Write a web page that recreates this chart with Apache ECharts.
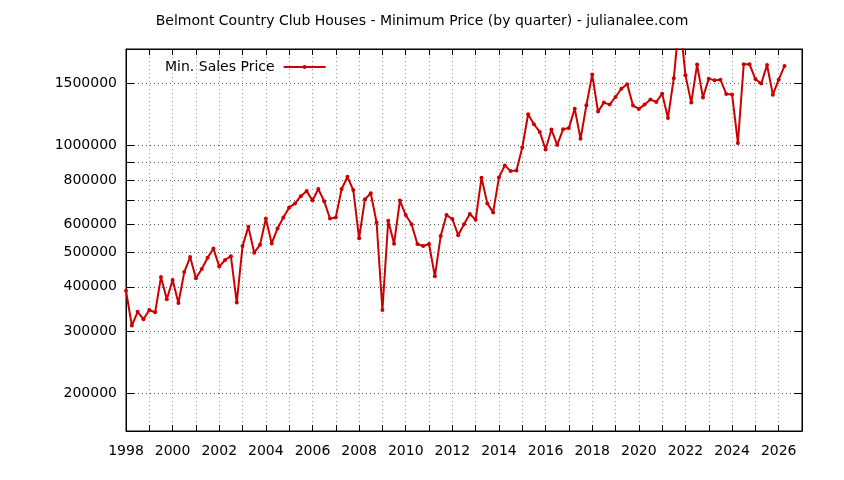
<!DOCTYPE html>
<html>
<head>
<meta charset="utf-8">
<script src="https://cdn.jsdelivr.net/npm/echarts@6/dist/echarts.min.js"></script>
<style>
html,body{margin:0;padding:0;background:#fff;}
#c{width:844px;height:480px;}
</style>
</head>
<body>
<div id="c"></div>
<script>
const chartTitle = 'Belmont Country Club Houses - Minimum Price (by quarter) - julianalee.com';
const seriesName = 'Min. Sales Price';
const firstYear = 1998;
// quarterly minimum prices, Q1 1998 .. Q2 2026
const prices = [
  390000, 311000, 340000, 324000,
  344000, 339000, 426000, 369000,
  418000, 360000, 440000, 485000,
  423000, 449000, 483000, 513000,
  456000, 476000, 488000, 361000,
  521000, 590000, 499000, 525000,
  623000, 530000, 584000, 627000,
  669000, 687000, 720000, 744000,
  700000, 754000, 697000, 623000,
  627000, 754000, 816000, 749000,
  548000, 706000, 734000, 607000,
  344000, 614000, 529000, 700000,
  637000, 600000, 528000, 521000,
  528000, 428000, 556000, 637000,
  621000, 559000, 600000, 641000,
  618000, 811000, 687000, 648000,
  813000, 879000, 847000, 851000,
  987000, 1225000, 1148000, 1092000,
  975000, 1109000, 1004000, 1111000,
  1121000, 1270000, 1044000, 1298000,
  1584000, 1246000, 1321000, 1304000,
  1370000, 1445000, 1489000, 1296000,
  1268000, 1304000, 1347000, 1326000,
  1400000, 1196000, 1546000, 2300000,
  1576000, 1321000, 1690000, 1365000,
  1543000, 1526000, 1533000, 1397000,
  1393000, 1017000, 1693000, 1693000,
  1539000, 1494000, 1685000, 1391000,
  1533000, 1675000
];
const yTickValues = [200000, 300000, 400000, 500000, 600000, 700000, 800000, 900000, 1000000, 1500000];
const yLabelValues = [200000, 300000, 400000, 500000, 600000, 800000, 1000000, 1500000];
const xLabelValues = [1998, 2000, 2002, 2004, 2006, 2008, 2010, 2012, 2014, 2016, 2018, 2020, 2022, 2024, 2026];
const yMin = 157000, yMax = 1870000;
const xMin = 1998, xMax = 2027;

const points = prices.map((v, i) => [firstYear + i / 4, v]);
const FONT = 'DejaVu Sans';
const red = '#cc0000';

const chart = echarts.init(document.getElementById('c'), null, {renderer: 'canvas'});
chart.setOption({
  animation: false,
  backgroundColor: '#fff',
  title: {
    text: chartTitle, left: 'center', top: 9,
    textStyle: {fontFamily: FONT, fontSize: 14, fontWeight: 'normal', color: '#000'}
  },
  legend: {
    left: 160, top: 55, align: 'right', itemWidth: 42, itemHeight: 5, itemGap: 10,
    textStyle: {fontFamily: FONT, fontSize: 14, color: '#000', padding: [0, 4, 0, 0]},
    data: [seriesName]
  },
  grid: {left: 126, right: 42, top: 49, bottom: 49, show: true, borderColor: '#000', borderWidth: 1, backgroundColor: 'transparent'},
  xAxis: [{
    type: 'value', min: xMin, max: xMax, interval: 1, position: 'bottom',
    axisLine: {show: true, lineStyle: {color: '#000'}},
    axisTick: {show: true, inside: true, length: 6, lineStyle: {color: '#000'}},
    axisLabel: {
      customValues: xLabelValues, margin: 13,
      fontFamily: FONT, fontSize: 14, color: '#000',
      formatter: v => String(v)
    },
    splitLine: {show: true, lineStyle: {color: '#9a9a9a', type: [1, 3], width: 1}}
  }, {
    type: 'value', min: xMin, max: xMax, interval: 1, position: 'top',
    axisLine: {show: true, lineStyle: {color: '#000'}},
    axisTick: {show: true, inside: true, length: 6, lineStyle: {color: '#000'}},
    axisLabel: {show: false}, splitLine: {show: false}
  }],
  yAxis: [{
    type: 'log', logBase: 10, min: yMin, max: yMax, position: 'left',
    axisLine: {show: true, lineStyle: {color: '#000'}},
    axisTick: {show: true, inside: true, length: 8, customValues: yTickValues, lineStyle: {color: '#000'}},
    axisLabel: {
      customValues: yLabelValues, margin: 9,
      fontFamily: FONT, fontSize: 14, color: '#000',
      formatter: v => String(Math.round(v))
    },
    splitLine: {show: true, lineStyle: {color: '#555', type: [1, 3], width: 1}},
    minorTick: {show: false}
  }, {
    type: 'log', logBase: 10, min: yMin, max: yMax, position: 'right',
    axisLine: {show: true, lineStyle: {color: '#000'}},
    axisTick: {show: true, inside: true, length: 8, customValues: yTickValues, lineStyle: {color: '#000'}},
    axisLabel: {show: false}, splitLine: {show: false}
  }],
  series: [{
    name: seriesName, type: 'line', xAxisIndex: 0, yAxisIndex: 0,
    data: points, clip: true,
    symbol: 'circle', symbolSize: 4, showSymbol: true,
    itemStyle: {color: red},
    lineStyle: {color: red, width: 2}
  }]
});
</script>
</body>
</html>
